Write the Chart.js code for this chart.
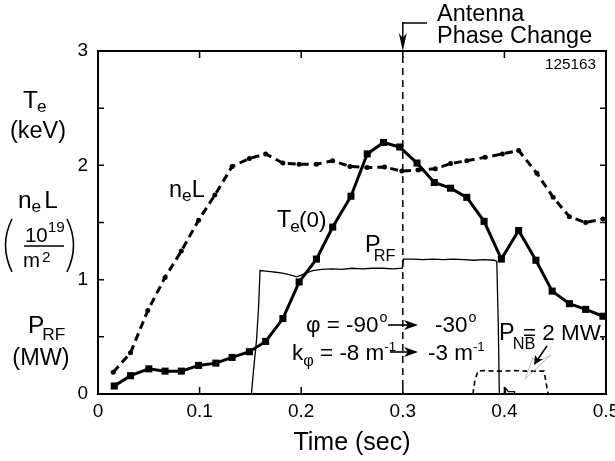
<!DOCTYPE html>
<html>
<head>
<meta charset="utf-8">
<script src="https://cdn.jsdelivr.net/npm/chart.js@4.4.1/dist/chart.umd.min.js"></script>
<style>
    html, body { margin: 0; padding: 0; background: #fff; overflow: hidden; }
    canvas { display: block; }
</style>
</head>
<body>
<canvas id="tePlot" width="615" height="461"></canvas>
<script>
var xTicks = [0, 0.1, 0.2, 0.3, 0.4, 0.5];
var yTicks = [0, 1, 2, 3];

// central electron temperature Te(0), keV
var teTime = [0.016, 0.032, 0.050, 0.066, 0.082, 0.099, 0.116, 0.132, 0.149, 0.165, 0.182, 0.198, 0.215, 0.231, 0.249,
              0.265, 0.281, 0.297, 0.314, 0.331, 0.347, 0.363, 0.380, 0.397, 0.414, 0.431, 0.447, 0.464, 0.480, 0.497];
var teVal = [0.07, 0.16, 0.22, 0.20, 0.20, 0.25, 0.27, 0.32, 0.37, 0.46, 0.66, 0.98, 1.18, 1.46, 1.73,
             2.10, 2.20, 2.16, 2.02, 1.85, 1.80, 1.72, 1.51, 1.18, 1.43, 1.17, 0.90, 0.79, 0.74, 0.68];

// line density neL, 10^19 m^-2
var neTime = [0.015, 0.032, 0.049, 0.066, 0.082, 0.099, 0.115, 0.132, 0.149, 0.165, 0.182, 0.198, 0.215, 0.231, 0.248,
              0.265, 0.282, 0.299, 0.315, 0.332, 0.347, 0.363, 0.381, 0.398, 0.414, 0.432, 0.448, 0.464, 0.480, 0.497];
var neVal = [0.19, 0.36, 0.73, 1.02, 1.25, 1.52, 1.74, 1.99, 2.06, 2.10, 2.02, 2.01, 2.01, 2.04, 1.99,
             1.98, 1.985, 1.95, 1.96, 1.97, 2.015, 2.04, 2.07, 2.10, 2.13, 1.93, 1.72, 1.55, 1.50, 1.53];

// RF power, MW
var prfTime = [0.151, 0.153, 0.156, 0.158, 0.159, 0.1595, 0.165, 0.170, 0.175, 0.180, 0.185, 0.190, 0.1955, 0.200, 0.205,
               0.2115, 0.220, 0.230, 0.240, 0.250, 0.260, 0.270, 0.280, 0.290, 0.2995, 0.3005, 0.310, 0.320, 0.330,
               0.340, 0.350, 0.360, 0.370, 0.380, 0.390, 0.3925, 0.394, 0.395, 0.401, 0.401, 0.404, 0.410, 0.410];
var prfVal = [0, 0.2, 0.47, 0.75, 0.97, 1.08, 1.075, 1.07, 1.065, 1.06, 1.05, 1.04, 1.025, 1.04, 1.06,
              1.08, 1.09, 1.095, 1.09, 1.10, 1.095, 1.10, 1.10, 1.095, 1.10, 1.18, 1.18, 1.175, 1.18,
              1.175, 1.18, 1.175, 1.17, 1.175, 1.17, 1.16, 0.6, 0, 0, 0.05, 0.02, 0.02, 0];

// neutral beam power
var pnbTime = [0.369, 0.371, 0.374, 0.380, 0.390, 0.400, 0.410, 0.420, 0.430, 0.439, 0.441, 0.443];
var pnbVal = [0, 0.12, 0.20, 0.205, 0.20, 0.20, 0.205, 0.20, 0.20, 0.20, 0.10, 0];

var phaseChangeTime = 0.3;
var xMin = 0, xMax = 0.5, yMin = 0, yMax = 3;
var FONT = '"Liberation Sans", Arial, sans-serif';
var STRETCH = 1.02;

function toPoints(xs, ys) {
    var pts = [];
    for (var i = 0; i < xs.length; i++) {
        pts.push({ x: xs[i], y: ys[i] });
    }
    return pts;
}

// box round the plot, as a closed line through the axis limits
function framePoints() {
    return toPoints([xMin, xMax, xMax, xMin, xMin], [yMin, yMin, yMax, yMax, yMin]);
}

// short inward tick marks on all four sides, separated by gaps
function tickPoints() {
    var pts = [];
    var dx = (xMax - xMin) * 6 / 508, dy = (yMax - yMin) * 7 / 343;
    var i, v;
    for (i = 1; i < xTicks.length - 1; i++) {
        v = xTicks[i];
        pts.push({ x: v, y: yMin }, { x: v, y: yMin + dy }, { x: v, y: null });
        pts.push({ x: v, y: yMax }, { x: v, y: yMax - dy }, { x: v, y: null });
    }
    for (v = 0.5; v < yMax; v += 0.5) {
        pts.push({ x: xMin, y: v }, { x: xMin + dx, y: v }, { x: xMin, y: null });
        pts.push({ x: xMax, y: v }, { x: xMax - dx, y: v }, { x: xMax, y: null });
    }
    return pts;
}

// runs: [text, size, dy, extraGap] drawn one after another from x
function drawRuns(ctx, x, y, runs) {
    for (var i = 0; i < runs.length; i++) {
        var r = runs[i];
        ctx.font = r[1] + 'px ' + FONT;
        ctx.save();
        ctx.translate(x, y + (r[2] || 0));
        ctx.scale(STRETCH, 1);
        ctx.fillText(r[0], 0, 0);
        ctx.restore();
        x += ctx.measureText(r[0]).width * STRETCH + (r[3] || 0);
    }
    return x;
}

function drawCentered(ctx, text, cx, y, size) {
    ctx.font = size + 'px ' + FONT;
    var w = ctx.measureText(text).width * STRETCH;
    drawRuns(ctx, cx - w / 2, y, [[text, size, 0]]);
}

function arrowRight(ctx, x1, x2, y) {
    ctx.fillRect(x1, y - 0.8, x2 - 8 - x1, 1.6);
    ctx.beginPath();
    ctx.moveTo(x2, y);
    ctx.lineTo(x2 - 14, y - 5);
    ctx.lineTo(x2 - 10, y);
    ctx.lineTo(x2 - 14, y + 5);
    ctx.closePath();
    ctx.fill();
}

function drawPhaseLine(chart) {
    var ctx = chart.ctx;
    var xs = chart.scales.x, ys = chart.scales.y;
    var top = ys.getPixelForValue(yMax), bottom = ys.getPixelForValue(yMin);
    var px = xs.getPixelForValue(phaseChangeTime);
    ctx.save();
    ctx.fillStyle = '#000';
    for (var yy = top + 5; yy < bottom; yy += 12) {
        ctx.fillRect(px - 0.75, yy, 1.5, Math.min(7, bottom - yy));
    }
    ctx.fillRect(px - 0.75, 22.25, 25, 1.5);
    ctx.fillRect(px - 0.75, 22.25, 1.5, 16);
    ctx.beginPath();
    ctx.moveTo(px, top);
    ctx.lineTo(px - 4, 33);
    ctx.lineTo(px, 38);
    ctx.lineTo(px + 4, 33);
    ctx.closePath();
    ctx.fill();
    ctx.restore();
}

function drawLabels(chart) {
    var ctx = chart.ctx;
    ctx.save();
    ctx.fillStyle = '#000';
    ctx.strokeStyle = '#000';
    ctx.textAlign = 'left';
    ctx.textBaseline = 'alphabetic';

    drawRuns(ctx, 437, 21, [['Antenna', 23, 0]]);
    drawRuns(ctx, 437, 43, [['Phase Change', 23, 0]]);
    drawRuns(ctx, 545, 69, [['125163', 15, 0]]);

    // left axis labels
    drawRuns(ctx, 23, 108, [['T', 24, 0, -1], ['e', 17, 4]]);
    drawCentered(ctx, '(keV)', 38, 138, 23);
    drawRuns(ctx, 18, 208, [['n', 24, 0], ['e', 17, 4, 3], ['L', 24, 0]]);
    drawRuns(ctx, 25, 242, [['10', 20, 0], ['19', 15, -10]]);
    ctx.fillRect(24, 245.25, 40, 1.5);
    drawRuns(ctx, 23, 267, [['m', 20, 0, 2], ['2', 15, -5]]);
    ctx.lineWidth = 1.6;
    ctx.beginPath();
    ctx.moveTo(12, 219);
    ctx.quadraticCurveTo(-1, 245, 12, 272);
    ctx.moveTo(67, 219);
    ctx.quadraticCurveTo(80, 245, 67, 272);
    ctx.stroke();
    drawRuns(ctx, 28, 333, [['P', 24, 0, -2], ['RF', 17, 7]]);
    drawCentered(ctx, '(MW)', 41, 365, 23);

    // trace labels
    drawRuns(ctx, 169, 197, [['n', 23, 0], ['e', 17, 4], ['L', 23, 0]]);
    drawRuns(ctx, 277, 227, [['T', 23, 0, -1], ['e', 17, 5, -1], ['(0)', 22, 0]]);
    drawRuns(ctx, 365, 252, [['P', 23, 0, -7], ['RF', 16, 9]]);

    // antenna phasing
    drawRuns(ctx, 306, 332, [['\u03c6 = -90', 22, 0, 1], ['o', 14, -10]]);
    arrowRight(ctx, 388, 418, 325);
    drawRuns(ctx, 435, 332, [['-30', 22, 0, 1], ['o', 14, -10]]);
    drawRuns(ctx, 292, 360, [['k', 22, 0], ['\u03c6', 16, 6], [' = -8 m', 22, 0], ['-1', 13, -9]]);
    arrowRight(ctx, 390, 418, 352);
    drawRuns(ctx, 428, 360, [['-3 m', 22, 0], ['-1', 13, -9]]);

    // beam
    drawRuns(ctx, 499, 340, [['P', 23, 0, -2], ['NB', 16, 9]]);
    drawRuns(ctx, 523, 340, [['= 2 MW.', 22, 0]]);
    ctx.strokeStyle = '#bbb';
    ctx.lineWidth = 1;
    ctx.beginPath();
    ctx.moveTo(551, 355);
    ctx.lineTo(537, 362);
    ctx.lineTo(533, 358);
    ctx.lineTo(525, 379);
    ctx.closePath();
    ctx.stroke();
    ctx.strokeStyle = '#000';
    ctx.lineWidth = 1.5;
    ctx.beginPath();
    ctx.moveTo(547, 346);
    ctx.lineTo(538, 359);
    ctx.stroke();
    ctx.beginPath();
    ctx.moveTo(534, 365);
    ctx.lineTo(535, 355);
    ctx.lineTo(538, 359);
    ctx.lineTo(543, 359);
    ctx.closePath();
    ctx.fill();
    ctx.restore();
}

var annotatePlugin = {
    id: 'annotate',
    afterDatasetsDraw: function (chart) {
        drawPhaseLine(chart);
    },
    afterDraw: function (chart) {
        drawLabels(chart);
    }
};

var plotCanvas = document.getElementById('tePlot');
new Chart(plotCanvas, {
    type: 'scatter',
    plugins: [annotatePlugin],
    data: {
        datasets: [
            {
                data: toPoints(teTime, teVal),
                showLine: true,
                borderColor: '#000',
                backgroundColor: '#000',
                borderWidth: 3,
                pointStyle: 'rect',
                pointRadius: 5,
                pointBorderWidth: 0
            },
            {
                data: toPoints(neTime, neVal),
                showLine: true,
                borderColor: '#000',
                backgroundColor: '#000',
                borderWidth: 3,
                borderDash: [8, 5],
                pointRadius: 2.5,
                pointBorderWidth: 0
            },
            {
                data: toPoints(prfTime, prfVal),
                showLine: true,
                borderColor: '#000',
                borderWidth: 1.3,
                pointRadius: 0
            },
            {
                data: toPoints(pnbTime, pnbVal),
                showLine: true,
                borderColor: '#000',
                borderWidth: 1.6,
                borderDash: [5, 3.5],
                pointRadius: 0
            },
            {
                data: framePoints(),
                showLine: true,
                borderColor: '#000',
                borderWidth: 2,
                pointRadius: 0,
                clip: false
            },
            {
                data: tickPoints(),
                showLine: true,
                spanGaps: false,
                borderColor: '#000',
                borderWidth: 1.5,
                pointRadius: 0,
                clip: false
            }
        ]
    },
    options: {
        responsive: false,
        animation: false,
        layout: { padding: { top: 51, right: 9, left: 0, bottom: 0 } },
        plugins: {
            legend: { display: false },
            tooltip: { enabled: false }
        },
        scales: {
            x: {
                type: 'linear',
                min: xMin,
                max: xMax,
                afterBuildTicks: function (s) {
                    s.ticks = xTicks.map(function (v) { return { value: v }; });
                },
                afterFit: function (s) {
                    s.height = 67;
                    s.paddingLeft = 0;
                    s.paddingRight = 0;
                },
                grid: { display: false, drawTicks: false },
                border: { display: true, color: '#000', width: 2 },
                ticks: {
                    padding: 6,
                    color: '#000',
                    maxRotation: 0,
                    autoSkip: false,
                    font: { family: FONT, size: 19 },
                    callback: function (v) { return String(Math.round(v * 10) / 10); }
                },
                title: {
                    display: true,
                    text: 'Time (sec)',
                    color: '#000',
                    font: { family: FONT, size: 25 },
                    padding: { top: 0, bottom: 3 }
                }
            },
            y: {
                min: yMin,
                max: yMax,
                afterBuildTicks: function (s) {
                    s.ticks = yTicks.map(function (v) { return { value: v }; });
                },
                afterFit: function (s) {
                    s.width = 98;
                },
                grid: { display: false, drawTicks: false },
                border: { display: true, color: '#000', width: 2 },
                ticks: {
                    padding: 10,
                    color: '#000',
                    font: { family: FONT, size: 19 }
                }
            }
        }
    }
});
</script>
</body>
</html>
